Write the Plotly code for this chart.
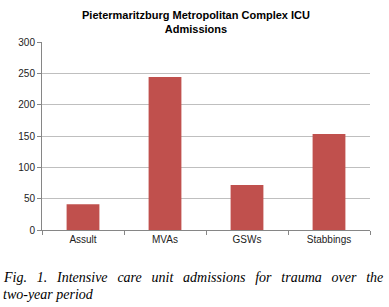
import plotly.graph_objects as go

categories = ["Assult", "MVAs", "GSWs", "Stabbings"]
admissions = [41, 244, 72, 153]
y_ticks = [0, 50, 100, 150, 200, 250, 300]

PW = 328  # plot width
PH = 188  # plot height

fig = go.Figure(go.Bar(x=categories, y=admissions, marker=dict(color="#C0504D", line=dict(width=0))))

fig.update_layout(
    width=389, height=307,
    paper_bgcolor="white", plot_bgcolor="white",
    margin=dict(l=42, r=19, t=42, b=77, autoexpand=False),
    bargap=0.6,
    showlegend=False,
    font=dict(family="Liberation Sans, Arial", size=10, color="#222"),
)
fig.update_xaxes(
    showline=True, linecolor="#868686", linewidth=1,
    ticks="outside", tickson="boundaries", ticklen=4, tickcolor="#868686",
    showgrid=False, automargin=False,
)
fig.update_yaxes(
    range=[0, 300], tickvals=y_ticks,
    showline=True, linecolor="#868686", linewidth=1,
    ticks="outside", ticklen=4, tickcolor="#868686",
    showgrid=True, gridcolor="#BFBFBF", gridwidth=1,
    zeroline=False, automargin=False,
)
fig.add_annotation(text="<b>Pietermaritzburg Metropolitan Complex ICU<br>Admissions</b>",
                   xref="paper", yref="paper", x=(196-42)/PW, y=1 + (42-7)/PH,
                   xanchor="center", yanchor="top", align="center", showarrow=False,
                   font=dict(family="Liberation Sans, Arial", size=11, color="#000"))
sp = "\u00a0\u00a0\u2009"
caption1 = sp.join(["Fig.", "1.", "Intensive", "care", "unit", "admissions", "for", "trauma", "over", "the"])
caption2 = "two-year period"
fig.add_annotation(text="<i>" + caption1 + "</i>", xref="paper", yref="paper",
                   x=-41/PW, y=-(287-230)/PH, xanchor="left", yanchor="bottom",
                   showarrow=False, font=dict(family="Liberation Serif, Times New Roman", size=14, color="#000"))
fig.add_annotation(text="<i>" + caption2 + "</i>", xref="paper", yref="paper",
                   x=-41/PW, y=-(304-230)/PH, xanchor="left", yanchor="bottom",
                   showarrow=False, font=dict(family="Liberation Serif, Times New Roman", size=14, color="#000"))

fig.write_html("out.html", config={"displayModeBar": False},
               post_script="document.body.style.margin='0';document.body.style.overflow='hidden';")
